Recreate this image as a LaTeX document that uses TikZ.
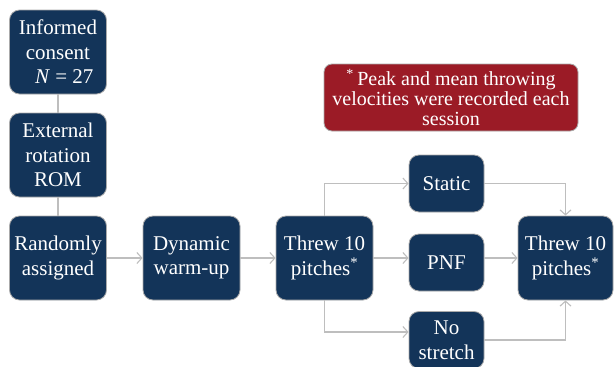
\documentclass[tikz,border=0pt]{standalone}
\usepackage{fontspec}
\setmainfont{Liberation Serif}
\usetikzlibrary{arrows.meta}
\definecolor{navy}{RGB}{19,52,89}
\definecolor{darkred}{RGB}{155,27,38}
\definecolor{linegray}{RGB}{190,190,190}
\definecolor{edgegray}{RGB}{170,170,170}
\begin{document}
\begin{tikzpicture}[x=1pt,y=-1pt,
  box/.style={draw=edgegray, line width=0.8pt, fill=navy, rounded corners=10pt, text=white, align=center, inner sep=0pt, font=\fontsize{21}{24.5}\selectfont},
  bigbox/.style={box, minimum width=97pt, minimum height=84pt},
  smallbox/.style={box, minimum width=75pt, minimum height=57pt},
  notebox/.style={box, fill=darkred, minimum width=254pt, minimum height=67pt, rounded corners=8pt, font=\fontsize{20}{20}\selectfont},
  conn/.style={draw=linegray, line width=1.1pt},
  arr/.style={conn, -{Straight Barb[length=5pt, width=11pt, line width=1.1pt]}}
]
\useasboundingbox (0,0) rectangle (614,367);
\node[bigbox] (inf) at (58,52) {Informed\\consent\\\hspace*{0.6em}\textit{N} = 27};
\node[bigbox] (ext) at (58,155) {External\\rotation\\ROM};
\node[bigbox] (rand) at (58,258) {Randomly\\assigned};
\node[bigbox] (dyn) at (191.5,258) {Dynamic\\warm-up};
\node[bigbox] (thr1) at (324.5,258) {Threw 10\\pitches\textsuperscript{*}};
\node[smallbox] (stat) at (446.5,183.5) {Static};
\node[smallbox] (pnf) at (446.5,262.5) {PNF};
\node[smallbox] (ns) at (446.5,340) {No\\stretch};
\node[bigbox, minimum width=95pt] (thr2) at (565.5,258) {Threw 10\\pitches\textsuperscript{*}};
\node[notebox] (note) at (451,97.5) {\textsuperscript{*}\,Peak and mean throwing\\velocities were recorded each\\session};

\draw[conn] (inf) -- (ext);
\draw[conn] (ext) -- (rand);
\draw[arr] (rand) -- (dyn);
\draw[arr] (dyn) -- (thr1);
\draw[arr] (thr1.north) |- (stat.west);
\draw[arr] (thr1.east) -- (thr1.east -| pnf.west);
\draw[arr] (thr1.south) |- ([yshift=8pt]ns.west);
\draw[arr] (stat.east) -| (thr2.north);
\draw[arr] (pnf.east |- thr2.west) -- (thr2.west);
\draw[arr] (ns.east) -| (thr2.south);
\end{tikzpicture}
\end{document}
